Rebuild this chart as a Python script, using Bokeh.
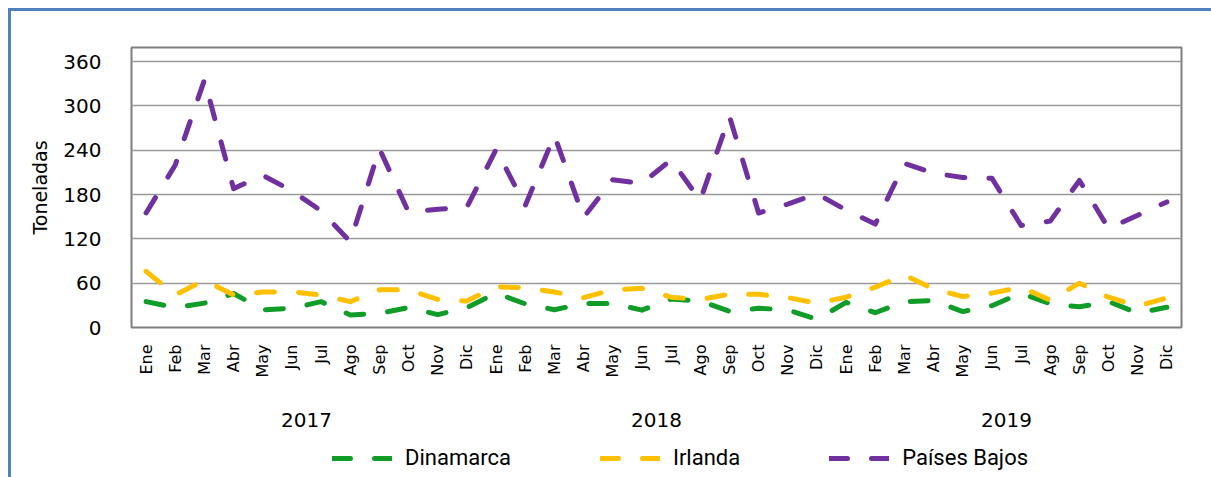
import math
from bokeh.plotting import figure
from bokeh.layouts import column
from bokeh.models import (ColumnDataSource, Range1d, FixedTicker,
                          LinearAxis, Legend, LegendItem)
from bokeh.embed import file_html
from bokeh.resources import INLINE

years = ["2017", "2018", "2019"]
months = ["Ene", "Feb", "Mar", "Abr", "May", "Jun", "Jul", "Ago", "Sep", "Oct", "Nov", "Dic"]

dinamarca = [35, 27, 33, 46, 24, 26, 35, 17, 19, 27, 17.5, 27,
             46.5, 32, 24, 32.5, 32.5, 23.5, 38.5, 36, 22, 26, 24, 11,
             34, 20, 35, 36.5, 21.5, 29.5, 46.5, 32, 28, 35, 19.5, 27.5]
irlanda = [76, 44, 64, 44, 48, 48.5, 44, 35, 51, 51, 38, 36,
           55, 54, 48, 40.5, 51, 53, 41, 38, 45, 45, 40.5, 33,
           41, 54.5, 71, 52, 42, 46.5, 54.5, 37, 60, 41, 29, 40]
paises_bajos = [155, 220, 335, 188, 206, 185, 158, 116, 242, 156, 160, 163,
                241, 165, 260, 149, 200, 195, 227, 172, 286, 155, 167, 181,
                159, 140, 222, 209, 203, 202, 138, 144, 199, 134, 152, 170]

series_names = ["Dinamarca", "Irlanda", "Países Bajos"]
y_ticks = [0, 60, 120, 180, 240, 300, 360]

nm = len(months)
n = len(years) * nm
xs = list(range(n))
month_labels = {i: months[i % nm] for i in xs}
year_pos = [k * nm + (nm - 1) / 2 for k in range(len(years))]
year_labels = {pos: yr for pos, yr in zip(year_pos, years)}

source = ColumnDataSource(data=dict(x=xs, dinamarca=dinamarca, irlanda=irlanda,
                                    paises_bajos=paises_bajos))

W = 1200
H1, H2 = 422, 44

p = figure(width=W, height=H1, output_backend="svg", toolbar_location=None,
           x_range=Range1d(-0.5, n - 0.5), y_range=Range1d(0, 379),
           min_border_left=120, min_border_right=30, min_border_top=36,
           min_border_bottom=H1 - 36 - 280)

p.background_fill_color = "white"
p.border_fill_color = "white"
p.outline_line_color = "#7f7f7f"
p.outline_line_width = 2

# y axis
yax = p.yaxis[0]
yax.ticker = FixedTicker(ticks=y_ticks)
yax.major_tick_line_color = None
yax.minor_tick_line_color = None
yax.axis_line_color = None
yax.major_label_text_font = "DejaVu Sans"
yax.major_label_text_font_size = "20px"
yax.major_label_text_color = "#000000"
yax.major_label_standoff = 24
yax.axis_label = "Toneladas"
yax.axis_label_text_font = "DejaVu Sans"
yax.axis_label_text_font_size = "19px"
yax.axis_label_text_font_style = "normal"
yax.axis_label_text_color = "#000000"
yax.axis_label_standoff = 9

p.ygrid.ticker = FixedTicker(ticks=y_ticks)
p.ygrid.grid_line_color = "#9a9a9a"
p.ygrid.grid_line_width = 1.5
p.xgrid.grid_line_color = None

# month axis
xax = p.xaxis[0]
xax.ticker = FixedTicker(ticks=xs)
xax.major_label_overrides = month_labels
xax.major_label_orientation = math.pi / 2
xax.major_tick_line_color = None
xax.minor_tick_line_color = None
xax.axis_line_color = None
xax.major_label_text_font = "DejaVu Sans"
xax.major_label_text_font_size = "16px"
xax.major_label_text_color = "#000000"
xax.major_label_standoff = 11

# year axis
p.extra_x_ranges = {"years": Range1d(-0.5, n - 0.5)}
yr_ax = LinearAxis(x_range_name="years", ticker=FixedTicker(ticks=year_pos),
                   major_label_overrides=year_labels)
yr_ax.major_tick_line_color = None
yr_ax.minor_tick_line_color = None
yr_ax.axis_line_color = None
yr_ax.major_label_text_font = "DejaVu Sans"
yr_ax.major_label_text_font_size = "20px"
yr_ax.major_label_text_color = "#000000"
yr_ax.major_label_standoff = 26
p.add_layout(yr_ax, "below")

dash = "18 24"
colors = ["#0f9d27", "#ffc000", "#7030a0"]
cols = ["dinamarca", "irlanda", "paises_bajos"]
for col, color in zip(cols, colors):
    p.line("x", col, source=source, line_color=color, line_width=5,
           line_dash=dash, line_cap="round", line_join="round")

# legend strip (same series drawn outside its visible range, only the legend shows)
q = figure(width=W, height=H2, output_backend="svg", toolbar_location=None,
           x_range=Range1d(0, 1), y_range=Range1d(0, 1),
           x_axis_type=None, y_axis_type=None,
           min_border_left=0, min_border_right=0, min_border_top=0, min_border_bottom=0)
q.outline_line_color = None
q.xgrid.grid_line_color = None
q.ygrid.grid_line_color = None
q.background_fill_color = "white"
q.border_fill_color = "white"

items = []
for name, col, color in zip(series_names, cols, colors):
    r = q.line("x", col, source=source, line_color=color, line_width=5, line_dash=dash,
               line_cap="round", line_join="round")
    items.append(LegendItem(label=name, renderers=[r]))

legend = Legend(items=items, orientation="horizontal", location=(201, 7),
                label_text_font="Roboto", label_text_font_size="22px",
                label_text_color="#000000", glyph_width=60, label_standoff=13,
                spacing=89, padding=0, margin=0, border_line_color=None,
                background_fill_alpha=0)
q.add_layout(legend, "center")

layout = column(p, q, spacing=0,
                styles={"margin-left": "8px", "margin-top": "8px",
                        "border-left": "3px solid #4f81bd",
                        "border-top": "3px solid #4f81bd"})

open("out.html", "w").write(file_html(layout, INLINE))
